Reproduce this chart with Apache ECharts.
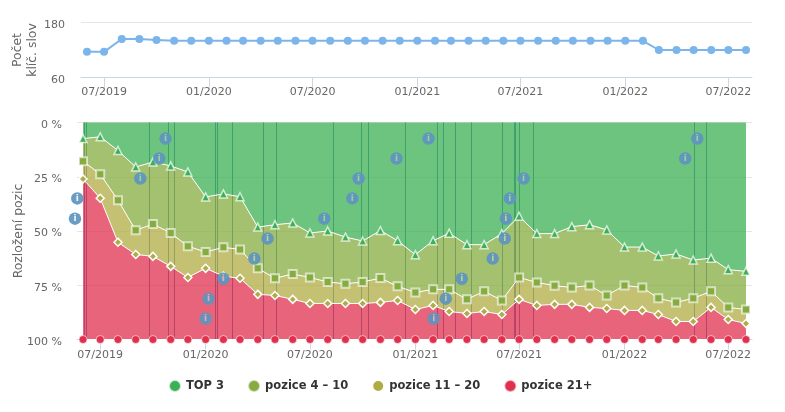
<!DOCTYPE html>
<html>
<head>
<meta charset="utf-8">
<style>
html, body { margin: 0; padding: 0; background: #fff; }
#chart { width: 785px; height: 412px; }
</style>
<script src="https://cdn.jsdelivr.net/npm/echarts@6/dist/echarts.min.js"></script>
</head>
<body>
<div id="chart"></div>
<script>
document.addEventListener("DOMContentLoaded", function () {
    var font = '"DejaVu Sans", sans-serif';

    // monthly snapshots, first is 2019-06
    var months = [];
    for (var y = 2019, m = 5; months.length < 39; m++) {
        months.push(+new Date(y, m, 1));
    }

    var keywords = [116, 116, 144, 144, 142, 140, 140, 140, 140, 140, 140, 140, 140, 140, 140, 140, 140, 140, 140, 140,
        140, 140, 140, 140, 140, 140, 140, 140, 140, 140, 140, 140, 140, 120, 120, 120, 120, 120, 120];

    // cumulative share (%), top edge of each lower band
    var upTo3 = [7.4, 6.6, 12.9, 20.5, 18.2, 20, 22.8, 34.3, 32.9, 34.2, 48.2, 47.1, 46.3, 50.9, 50, 52.8, 54.6, 49.8, 54.5,
        60.9, 54.5, 51, 56.3, 56.3, 51.2, 43.2, 51.2, 51.2, 48, 47.1, 49.5, 57.4, 57.4, 61.5, 60.6, 63.4, 62.5, 67.8, 68.6];
    var upTo10 = [17.8, 23.8, 35.8, 49.7, 46.8, 50.9, 57, 59.7, 57.5, 58.5, 67.2, 71.8, 69.8, 71.4, 73.5, 74.3, 73.5, 71.7, 75.5,
        78.3, 76.9, 76.9, 81.5, 77.8, 82, 71.4, 73.7, 75.2, 76, 75.1, 79.7, 75.1, 76, 81, 82.9, 81, 77.8, 85.2, 86.2];
    var upTo20 = [26, 34.9, 55.2, 60.8, 61.7, 66.3, 71.4, 67.2, 70.8, 71.8, 79.2, 79.7, 81.5, 83.4, 83.4, 83.4, 83.4, 82.9, 82,
        86.2, 84.3, 87.1, 88, 87.1, 88.5, 81.5, 84.3, 83.8, 83.8, 85.2, 85.7, 86.6, 86.6, 88.5, 91.7, 91.7, 85.2, 90.8, 92.6];

    function band(i, lo, hi) {
        return [months[i], +(hi - lo).toFixed(1)];
    }
    var top3 = upTo3.map(function (v, i) { return band(i, 0, v); });
    var pos10 = upTo10.map(function (v, i) { return band(i, upTo3[i], v); });
    var pos20 = upTo20.map(function (v, i) { return band(i, upTo10[i], v); });
    var pos21 = upTo20.map(function (v, i) { return band(i, v, 100); });

    // annotations: date, height of the icon on the y axis, colour seen through the "i"
    var green = '#a3d3a0', olive = '#c6d29a', red = '#eeb0b8', white = '#ffffff';
    var notes = [
        ['2019-06-03', 44.3, white], ['2019-06-07', 35, white], ['2019-09-25', 25.8, green], ['2019-10-28', 16.6, green],
        ['2019-11-08', 7.4, green], ['2020-01-17', 90.4, red], ['2020-01-22', 81.2, red], ['2020-02-17', 72, red],
        ['2020-04-11', 62.7, olive], ['2020-05-04', 53.5, olive], ['2020-08-11', 44.3, green], ['2020-09-29', 35, green],
        ['2020-10-10', 25.8, green], ['2020-12-15', 16.6, green], ['2021-02-09', 7.4, green], ['2021-02-18', 90.4, red],
        ['2021-03-11', 81.2, olive], ['2021-04-08', 72, olive], ['2021-06-01', 62.7, olive], ['2021-06-22', 53.5, olive],
        ['2021-06-24', 44.3, olive], ['2021-07-01', 35, green], ['2021-07-25', 25.8, green], ['2022-05-03', 16.6, green],
        ['2022-05-24', 7.4, green]
    ];
    var day = 24 * 3600 * 1000;
    var noteDate = function (s) { var p = s.split('-'); return +new Date(+p[0], +p[1] - 1, +p[2]); };

    var ticks = [];
    for (var t = 0; t < 7; t++) ticks.push(+new Date(2019, 6 + t * 6, 1));
    var xMin = +new Date(2019, 4, 21, 12), xMax = +new Date(2022, 7, 11, 12);

    function fmtMonth(v) {
        var d = new Date(v);
        return ('0' + (d.getMonth() + 1)).slice(-2) + '/' + d.getFullYear();
    }

    // dates as plain timestamps on a value axis, ticks are half-yearly
    function xAxis(idx, labelMargin) {
        return {
            type: 'value',
            gridIndex: idx,
            min: xMin,
            max: xMax,
            axisLine: { show: true, onZero: false, lineStyle: { color: '#ccd6eb' } },
            axisTick: { show: true, length: 10, customValues: ticks, lineStyle: { color: '#ccd6eb' } },
            splitLine: { show: false },
            axisLabel: {
                customValues: ticks,
                formatter: fmtMonth,
                color: '#666',
                fontFamily: font,
                fontSize: 11,
                margin: labelMargin,
                hideOverlap: false,
                showMinLabel: true,
                showMaxLabel: true
            }
        };
    }

    function area(name, data, color, symbol, size, border, borderWidth) {
        return {
            name: name,
            type: 'line',
            stack: 'pozice',
            xAxisIndex: 2,
            yAxisIndex: 1,
            z: 3,
            data: data,
            symbol: symbol,
            symbolSize: size,
            showAllSymbol: true,
            clip: false,
            color: color,
            lineStyle: { color: '#fff', width: 1 },
            itemStyle: { color: color, borderColor: border, borderWidth: borderWidth, opacity: 1 },
            areaStyle: { color: color, opacity: 0.75 },
            emphasis: { disabled: true }
        };
    }

    var myChart = echarts.init(document.getElementById('chart'));
    var option = {
        animation: false,
        textStyle: { fontFamily: font },
        grid: [
            { left: 81, right: 33, top: 22.5, height: 55, outerBoundsMode: 'none' },
            { left: 77, right: 33, top: 122.5, height: 217, outerBoundsMode: 'none' }
        ],
        xAxis: [
            xAxis(0, 9),
            xAxis(1, 10),
            // the stacked areas need a time axis, it stays hidden under the visible one
            { type: 'time', gridIndex: 1, min: xMin, max: xMax, show: false }
        ],
        yAxis: [
            {
                type: 'value',
                gridIndex: 0,
                min: 60,
                max: 180,
                name: 'Počet\nklíč. slov',
                nameLocation: 'middle',
                nameGap: 41,
                nameMoveOverlap: false,
                nameRotate: 90,
                nameTextStyle: { color: '#666', fontSize: 12.4, fontFamily: font, lineHeight: 15 },
                axisLine: { show: false },
                axisTick: { show: false, customValues: [60, 180] },
                // labels sit a little under their grid line
                axisLabel: { customValues: [60, 180], color: '#666', fontSize: 11, fontFamily: font, margin: 16, verticalAlign: 'top', lineHeight: 5 },
                splitLine: { show: true, lineStyle: { color: '#e6e6e6' } }
            },
            {
                type: 'value',
                gridIndex: 1,
                inverse: true,
                min: 0,
                max: 100,
                interval: 25,
                name: 'Rozložení pozic',
                nameLocation: 'middle',
                nameGap: 52,
                nameMoveOverlap: false,
                nameRotate: 90,
                nameTextStyle: { color: '#666', fontSize: 12.4, fontFamily: font },
                axisLine: { show: false },
                axisTick: { show: false },
                axisLabel: { formatter: '{value} %', color: '#666', fontSize: 11, fontFamily: font, margin: 15, verticalAlign: 'top', lineHeight: 5 },
                splitLine: { show: true, lineStyle: { color: '#e6e6e6' } }
            }
        ],
        legend: {
            data: ['TOP 3', 'pozice 4 – 10', 'pozice 11 – 20', 'pozice 21+'],
            left: 168,
            top: 379,
            padding: 0,
            icon: 'circle',
            itemWidth: 12,
            itemHeight: 12,
            itemGap: 23,
            selectedMode: false,
            textStyle: { color: '#333', fontWeight: 'bold', fontSize: 11.5, fontFamily: font }
        },
        series: [
            {
                name: 'klíč. slova',
                type: 'line',
                xAxisIndex: 0,
                yAxisIndex: 0,
                data: keywords.map(function (v, i) { return [months[i], v]; }),
                symbol: 'circle',
                symbolSize: 8,
                showAllSymbol: true,
                color: '#7cb5ec',
                lineStyle: { color: '#7cb5ec', width: 2 },
                itemStyle: { color: '#7cb5ec' }
            },
            {
                name: 'poznamky',
                type: 'line',
                xAxisIndex: 1,
                yAxisIndex: 1,
                z: 1,
                data: [],
                markLine: {
                    z: 1,
                    silent: true,
                    symbol: 'none',
                    animation: false,
                    label: { show: false },
                    lineStyle: { color: '#4a7ab0', width: 1, type: 'solid', opacity: 1 },
                    data: notes.map(function (n) { return { xAxis: noteDate(n[0]) }; })
                }
            },
            area('TOP 3', top3, '#3cb054', 'triangle', 8, 'rgba(255,255,255,0.7)', 1.5),
            area('pozice 4 – 10', pos10, '#86ac40', 'rect', 8, 'rgba(255,255,255,0.6)', 2),
            area('pozice 11 – 20', pos20, '#b0ac44', 'diamond', 8, '#fff', 1.5),
            area('pozice 21+', pos21, '#e0304e', 'circle', 8, 'rgba(255,255,255,0.6)', 1),
            {
                name: 'ikony',
                type: 'scatter',
                xAxisIndex: 1,
                yAxisIndex: 1,
                z: 6,
                clip: false,
                symbol: 'circle',
                symbolSize: 12.5,
                silent: true,
                itemStyle: { color: '#5e95bf', opacity: 0.92 },
                // the icon sits 9 px left of its line, about 16 days
                data: notes.map(function (n) {
                    return {
                        value: [noteDate(n[0]) - 16 * day, n[1]],
                        label: {
                            show: true,
                            position: 'inside',
                            formatter: 'i',
                            color: n[2],
                            fontSize: 9,
                            fontWeight: 'bold',
                            fontFamily: font
                        }
                    };
                })
            }
        ]
    };
    myChart.setOption(option);
});
</script>
</body>
</html>
